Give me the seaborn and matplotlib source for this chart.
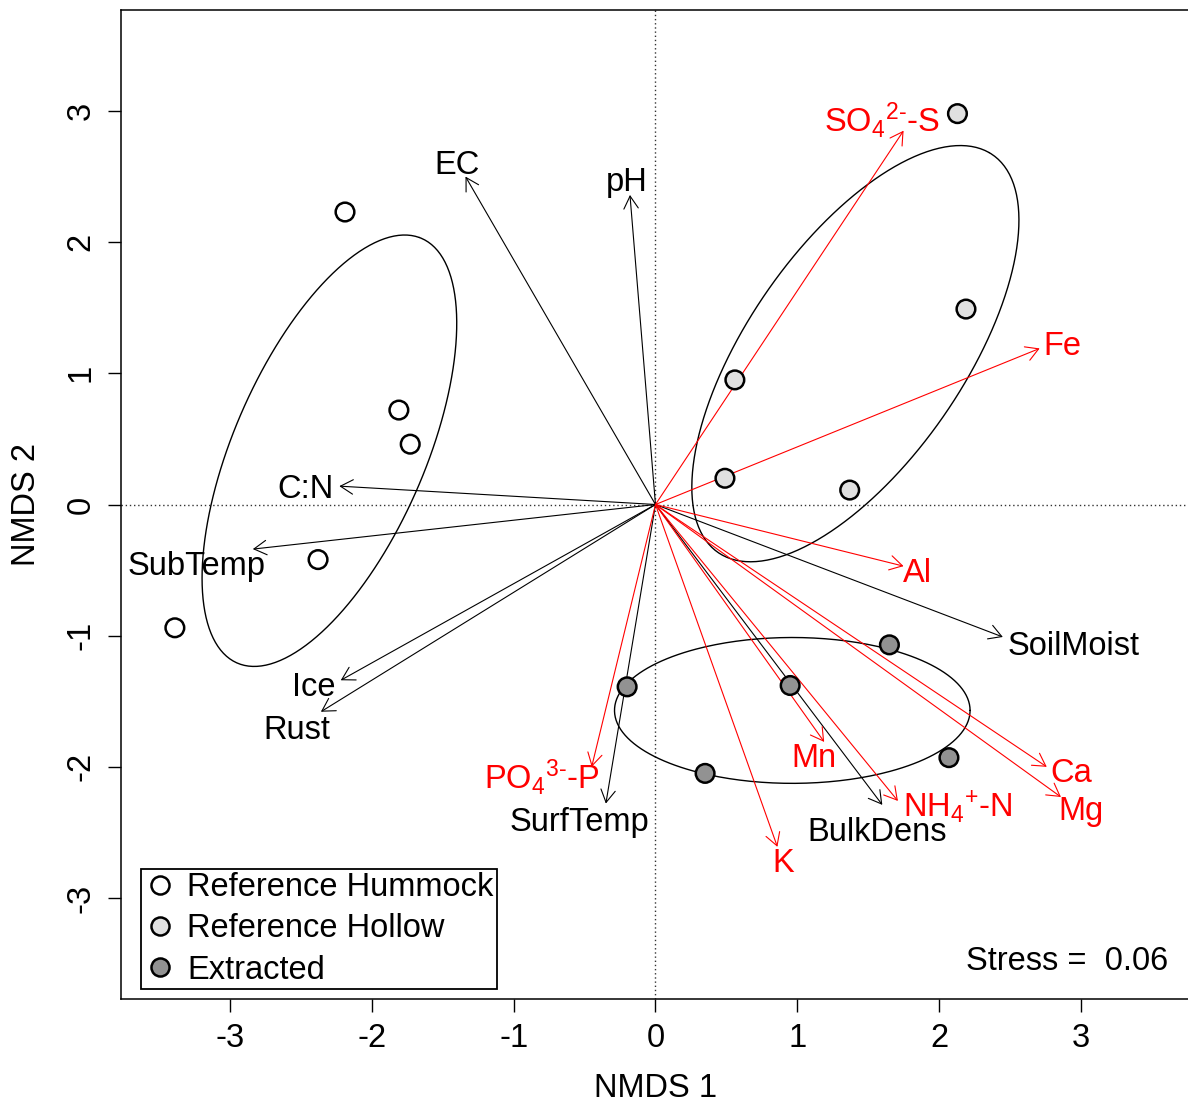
import numpy as np
import pandas as pd
import matplotlib
matplotlib.use("Agg")
import matplotlib.pyplot as plt
from matplotlib.lines import Line2D
import seaborn as sns

# site scores
hummock_x = [-2.19, -1.81, -1.73, -2.38, -3.39]
hummock_y = [2.23, 0.72, 0.46, -0.42, -0.94]
hollow_x = [2.13, 2.19, 0.56, 0.49, 1.37]
hollow_y = [2.98, 1.49, 0.95, 0.20, 0.11]
extracted_x = [1.65, -0.20, 0.95, 0.35, 2.07]
extracted_y = [-1.07, -1.39, -1.38, -2.05, -1.93]
groups = ["Reference Hummock", "Reference Hollow", "Extracted"]

# env vectors (black = physical, red = chemistry)
phys_names = ["EC", "pH", "C:N", "SubTemp", "Ice", "Rust", "SoilMoist", "SurfTemp", "BulkDens"]
phys_x = [-1.34, -0.18, -2.23, -2.84, -2.22, -2.36, 2.45, -0.35, 1.60]
phys_y = [2.50, 2.36, 0.14, -0.34, -1.34, -1.58, -1.01, -2.28, -2.29]
phys_lab_x = [-1.40, -0.20, -2.47, -3.24, -2.41, -2.53, 2.95, -0.54, 1.56]
phys_lab_y = [2.61, 2.48, 0.14, -0.45, -1.37, -1.70, -1.06, -2.40, -2.48]

chem_names = [r"SO$_4{}^{2\text{-}}$-S", "Fe", "Al", "Ca", "Mg", r"NH$_4{}^{+}$-N", "Mn", "K",
              r"PO$_4{}^{3\text{-}}$-P"]
chem_x = [1.75, 2.71, 1.75, 2.76, 2.86, 1.71, 1.19, 0.86, -0.45]
chem_y = [2.85, 1.19, -0.47, -2.00, -2.23, -2.26, -1.81, -2.61, -2.00]
chem_lab_x = [1.60, 2.87, 1.85, 2.93, 3.00, 2.13, 1.12, 0.90, -0.80]
chem_lab_y = [2.93, 1.23, -0.50, -2.03, -2.32, -2.29, -1.91, -2.71, -2.08]

# group ellipses: centre, semi axes, rotation (deg)
ell_cx = [-2.30, 1.41, 0.965]
ell_cy = [0.41, 1.15, -1.57]
ell_a = [1.745, 1.80, 1.254]
ell_b = [0.683, 0.78, 0.556]
ell_ang = [68.7, 58.4, 0.0]

stress = 0.06

sns.set_theme(style="ticks")
plt.rcParams["font.family"] = ["Liberation Sans", "DejaVu Sans"]
plt.rcParams["mathtext.fontset"] = "custom"
plt.rcParams["mathtext.rm"] = "Liberation Sans"
plt.rcParams["mathtext.it"] = "Liberation Sans:italic"
plt.rcParams["mathtext.default"] = "regular"
plt.rcParams["axes.unicode_minus"] = False
plt.rcParams["text.color"] = "black"
plt.rcParams["axes.labelcolor"] = "black"

fs = 23.5

df = pd.DataFrame({
    "NMDS1": hummock_x + hollow_x + extracted_x,
    "NMDS2": hummock_y + hollow_y + extracted_y,
    "group": [groups[0]] * 5 + [groups[1]] * 5 + [groups[2]] * 5,
})
pal = {groups[0]: "white", groups[1]: "#E0E0E0", groups[2]: "#929292"}

fig = plt.figure(figsize=(11.88, 11.06), dpi=100)
ax = fig.add_axes([0.10185, 0.09675, 0.8998, 0.8942])

ax.axhline(0, color="#333333", lw=1.0, ls=(0, (1, 2)), zorder=1)
ax.axvline(0, color="#333333", lw=1.0, ls=(0, (1, 2)), zorder=1)

# ellipses
t = np.linspace(0, 2 * np.pi, 300)
for cx, cy, a, b, ang in zip(ell_cx, ell_cy, ell_a, ell_b, ell_ang):
    th = np.deg2rad(ang)
    ex = cx + a * np.cos(t) * np.cos(th) - b * np.sin(t) * np.sin(th)
    ey = cy + a * np.cos(t) * np.sin(th) + b * np.sin(t) * np.cos(th)
    ax.plot(ex, ey, color="black", lw=1.0, zorder=2)

# arrows + labels
def draw_vectors(names, xs, ys, lxs, lys, col):
    for n, x, y, lx, ly in zip(names, xs, ys, lxs, lys):
        ax.annotate("", xy=(x, y), xytext=(0, 0),
                    arrowprops=dict(arrowstyle="->,head_length=0.45,head_width=0.26",
                                    mutation_scale=20, lw=0.8, color=col,
                                    shrinkA=0, shrinkB=0), zorder=3)
        ax.annotate(n, xy=(lx, ly), xytext=(0, -8.4), textcoords="offset points",
                    ha="center", va="baseline", color=col, fontsize=fs, zorder=4)

draw_vectors(phys_names, phys_x, phys_y, phys_lab_x, phys_lab_y, "black")
draw_vectors(chem_names, chem_x, chem_y, chem_lab_x, chem_lab_y, "#FF0000")

sns.scatterplot(data=df, x="NMDS1", y="NMDS2", hue="group", palette=pal,
                s=180, edgecolor="black", linewidth=1.8, legend=False, ax=ax, zorder=5)

ax.set_xlim(-3.77, 3.77)
ax.set_ylim(-3.77, 3.77)
ax.set_xticks([-3, -2, -1, 0, 1, 2, 3])
ax.set_yticks([-3, -2, -1, 0, 1, 2, 3])
ax.set_yticklabels(["-3", "-2", "-1", "0", "1", "2", "3"], rotation=90, va="center")
ax.tick_params(axis="both", direction="out", length=9.5, width=1.0, pad=8,
               labelsize=fs, colors="black")
for sp in ax.spines.values():
    sp.set_color("black")
    sp.set_linewidth(1.1)

ax.set_xlabel("NMDS 1", fontsize=fs)
ax.set_ylabel("NMDS 2", fontsize=fs)
ax.xaxis.set_label_coords(0.5005, -0.09)
ax.xaxis.label.set_va("center")
ax.yaxis.set_label_coords(-0.088, 0.5)
ax.yaxis.label.set_va("center")

handles = [Line2D([], [], ls="none", marker="o", markersize=13, markeredgewidth=1.8,
                  markeredgecolor="black", markerfacecolor=pal[g]) for g in groups]
leg = ax.legend(handles, groups, loc="lower left", bbox_to_anchor=(0.0187, 0.010),
                borderaxespad=0, fontsize=fs, frameon=True, fancybox=False,
                framealpha=1, edgecolor="black", borderpad=0.1, handlelength=0.95,
                handletextpad=0.36, labelspacing=0.32)
leg.get_frame().set_linewidth(1.3)

ax.text(0.980, 0.0384, "Stress =  %.2f" % stress, transform=ax.transAxes,
        ha="right", va="center", fontsize=fs)

fig.savefig("out.png", dpi=100)
